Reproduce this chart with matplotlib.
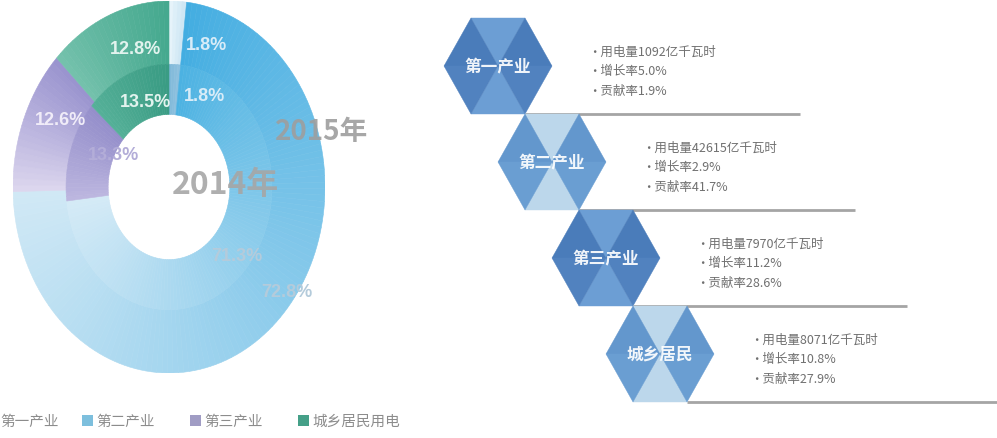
import numpy as np
import matplotlib
matplotlib.use("Agg")
import matplotlib.pyplot as plt
from matplotlib.patches import Wedge, Polygon, Rectangle
from matplotlib.colors import to_rgb

plt.rcParams['font.family'] = ['Noto Sans CJK SC', 'DejaVu Sans']

# electricity consumption structure (%)
categories = ['第一产业', '第二产业', '第三产业', '城乡居民用电']
share_2015 = [1.8, 72.8, 12.6, 12.8]
share_2014 = [1.8, 71.3, 13.3, 13.5]

# per-sector figures
hex_names = ['第一产业', '第二产业', '第三产业', '城乡居民']
usage = [1092, 42615, 7970, 8071]        # 亿千瓦时
growth = [5.0, 2.9, 11.2, 10.8]          # %
contribution = [1.9, 41.7, 28.6, 27.9]   # %

W, H = 997, 439
fig = plt.figure(figsize=(W / 100, H / 100), dpi=100)
fig.patch.set_facecolor('white')

# ---- donut (stretched vertically, so aspect is left on auto)
ax = fig.add_axes([13 / W, (H - 374) / H, 312 / W, 372 / H])

# gradient start/end colours (in clockwise sweep order), outer ring then inner ring
outer_grad = [('#e6f3fa', '#cfe7f4'), ('#43ade1', '#d0e8f5'),
              ('#dcd6ee', '#9a94cf'), ('#74c1ac', '#45a98f')]
inner_grad = [('#80b9da', '#8dc0de'), ('#4cb2e2', '#d4eaf6'),
              ('#bcb6df', '#958fcb'), ('#55b098', '#3a9c84')]


def mix(c0, c1, t):
    a, b = np.array(to_rgb(c0)), np.array(to_rgb(c1))
    return tuple(a + (b - a) * t)


def ring(values, grads, radius, width):
    wedges, _ = ax.pie(values, radius=radius, startangle=90, counterclock=False,
                       colors=[g[0] for g in grads],
                       wedgeprops=dict(width=width, linewidth=0))
    # shade each wedge along its sweep
    for w, (c0, c1) in zip(wedges, grads):
        w.set_visible(False)
        n = max(4, int((w.theta2 - w.theta1) / 2))
        edges = np.linspace(w.theta2, w.theta1, n + 1)
        for k in range(n):
            t = (k / max(n - 1, 1)) ** 0.9
            col = mix(c0, c1, t)
            ax.add_patch(Wedge((0, 0), radius, edges[k + 1], edges[k],
                               width=width, facecolor=col, edgecolor=col, lw=0.4))


ring(share_2015, outer_grad, 1.0, 0.34)
ring(share_2014, inner_grad, 0.66, 0.27)
ax.set_aspect('auto')
ax.set_xlim(-1, 1)
ax.set_ylim(-1, 1)
ax.axis('off')

# ---- overlay in pixel units for the rest
ov = fig.add_axes([0, 0, 1, 1])
ov.set_xlim(0, W)
ov.set_ylim(H, 0)
ov.axis('off')

pct_pos_2015 = [(206, 46), (287, 293), (60, 121), (135, 50)]
pct_pos_2014 = [(204, 97), (237, 257), (113, 156), (145, 103)]
colors_2015 = ['#d8ecf8', '#b4cbdb', '#f0ecf8', '#e2f3ee']
colors_2014 = ['#d8ecf8', '#b4cbdb', '#b3add8', '#e2f3ee']
for vals, pos, cols in ((share_2015, pct_pos_2015, colors_2015),
                        (share_2014, pct_pos_2014, colors_2014)):
    for v, (x, y), c in zip(vals, pos, cols):
        ov.text(x, y, f'{v:.1f}%', ha='center', va='center', fontsize=13,
                family='Liberation Sans', fontweight='bold', color=c)

ov.text(322, 132, '2015年', ha='center', va='center', fontsize=20,
        fontweight='bold', color='#9e9e9e', alpha=0.9)
ov.text(225, 185, '2014年', ha='center', va='center', fontsize=23,
        fontweight='bold', color='#a6a6a6', alpha=0.9)

# legend along the bottom
leg_x = [-14, 82, 190, 298]
leg_colors = ['#cfe6f4', '#7dbfdd', '#a09cc4', '#45a088']
for x, c, name in zip(leg_x, leg_colors, categories):
    ov.add_patch(Rectangle((x, 416), 11, 11, facecolor=c, edgecolor='none'))
    ov.text(x + 14, 422, name, ha='left', va='center', fontsize=10.5,
            color='#8c8c8c')

# ---- hexagon steps
s, h = 54, 48
centers = [(498, 67), (552, 163), (606, 259), (660, 355)]
line_end = [800, 855, 907, 997]
styles = [('#6c9ed4', '#4a7cba', '#5182bf'), ('#bcd7eb', '#6397cd', '#6a9ed2'),
          ('#6c9ed4', '#4a7cba', '#5182bf'), ('#bcd7eb', '#6397cd', '#6a9ed2')]

for i, (cx, cy) in enumerate(centers):
    L, R = (cx - s, cy), (cx + s, cy)
    TL, TR = (cx - s / 2, cy - h), (cx + s / 2, cy - h)
    BL, BR = (cx - s / 2, cy + h), (cx + s / 2, cy + h)
    C = (cx, cy)
    mid, side, side2 = styles[i]
    tris = [([TL, TR, C], mid), ([BR, BL, C], mid),
            ([L, TL, C], side), ([BL, L, C], side2),
            ([TR, R, C], side), ([R, BR, C], side2)]
    for pts, col in tris:
        ov.add_patch(Polygon(pts, closed=True, facecolor=col, edgecolor=col,
                             lw=0.3, zorder=3))
    ov.plot([cx + s / 2, line_end[i]], [cy + h, cy + h], color='#a5a5a5',
            lw=2, solid_capstyle='butt', zorder=2)
    ov.text(cx, cy, hex_names[i], ha='center', va='center', fontsize=12,
            fontweight='bold', color='white', alpha=0.92, zorder=4)

    lines = [f'•用电量{usage[i]}亿千瓦时', f'•增长率{growth[i]:.1f}%',
             f'•贡献率{contribution[i]:.1f}%']
    for j, t in enumerate(lines):
        ov.text(cx + 90, cy - 15 + 19.5 * j, t, ha='left', va='center',
                fontsize=9, color='#707070')

fig.savefig('out.png', dpi=100, facecolor='white')
